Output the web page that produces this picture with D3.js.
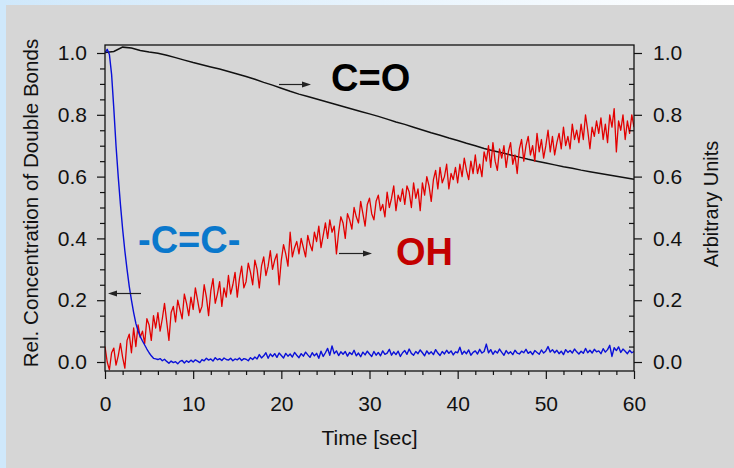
<!DOCTYPE html>
<html>
<head>
<meta charset="utf-8">
<script src="https://cdn.jsdelivr.net/npm/d3@7"></script>
<style>
  html, body { margin: 0; padding: 0; background: #d6d6d6; }
  svg { display: block; }
  text { font-family: "Liberation Sans", Arial, Helvetica, sans-serif; }
</style>
</head>
<body>
<svg id="chart" width="734" height="468"></svg>
<script>
// Sampling interval of the spectrometer traces (seconds)
const sampleStep = 0.25;
const coStep = 1;

// -C=C- band (relative concentration of double bonds, left axis)
const ccValues = [
  1.000, 1.012, 0.995, 0.930, 0.820, 0.700, 0.600, 0.510, 0.430, 0.360, 0.300, 0.245,
  0.200, 0.160, 0.125, 0.100, 0.082, 0.068, 0.055, 0.042, 0.030, 0.020,
  0.012, 0.010,
  0.008, 0.011, 0.004, 0.009,   0.002, -0.004, 0.003, -0.002,
  0.001, -0.006, 0.002, 0.005,  -0.003, 0.004, -0.001, 0.006,
  0.000, 0.007, 0.003, -0.002,  0.008, 0.004, 0.012, 0.006,
  0.010, 0.003, 0.014, 0.007,   0.011, 0.005, 0.013, 0.008,
  0.006, 0.012, 0.004, 0.010,   0.007, 0.013, 0.005, 0.011,
  0.009, 0.004, 0.014, 0.008,   0.016, 0.010, 0.024, 0.013,
  0.020, 0.030, 0.012, 0.026,   0.018, 0.027, 0.015, 0.029,
  0.021, 0.013, 0.028, 0.019,   0.026, 0.016, 0.031, 0.022,
  0.014, 0.027, 0.019, 0.032,   0.023, 0.015, 0.030, 0.020,
  0.028, 0.012, 0.035, 0.018,   0.030, 0.044, 0.022, 0.052,
  0.027, 0.036, 0.021, 0.033,   0.025, 0.034, 0.019, 0.031,
  0.024, 0.038, 0.020, 0.029,   0.017, 0.032, 0.023, 0.035,
  0.026, 0.018, 0.034, 0.022,   0.031, 0.020, 0.036, 0.025,
  0.029, 0.041, 0.022, 0.033,   0.024, 0.035, 0.018, 0.030,
  0.037, 0.025, 0.042, 0.028,   0.022, 0.034, 0.027, 0.039,
  0.030, 0.020, 0.036, 0.026,   0.033, 0.024, 0.040, 0.029,
  0.021, 0.034, 0.026, 0.038,   0.028, 0.036, 0.023, 0.033,
  0.030, 0.048, 0.025, 0.035,   0.027, 0.039, 0.022, 0.031,
  0.036, 0.026, 0.041, 0.029,   0.034, 0.058, 0.030, 0.040,
  0.025, 0.036, 0.029, 0.042,   0.031, 0.022, 0.037, 0.027,
  0.033, 0.024, 0.038, 0.029,   0.026, 0.035, 0.030, 0.041,
  0.028, 0.034, 0.024, 0.037,   0.031, 0.025, 0.039, 0.029,
  0.036, 0.050, 0.032, 0.040,   0.030, 0.038, 0.027, 0.035,
  0.024, 0.040, 0.031, 0.037,   0.029, 0.042, 0.033, 0.026,
  0.035, 0.028, 0.044, 0.030,   0.038, 0.029, 0.041, 0.033,
  0.036, 0.027, 0.043, 0.032,   0.040, 0.054, 0.018, 0.046,
  0.037, 0.049, 0.031, 0.042,   0.035, 0.027, 0.038, 0.030,
  0.034
];

// OH band (arbitrary units, right axis)
const ohValues = [
  0.05, 0.00, -0.025, 0.03, 0.045, -0.01, 0.02, 0.06,
  0.015, -0.02, 0.07, 0.09, 0.03, 0.11, 0.05, 0.12,
  0.08, 0.10, 0.06, 0.14, 0.12, 0.07, 0.15, 0.11,
  0.16, 0.10, 0.14, 0.19, 0.13, 0.07, 0.16, 0.18,
  0.13, 0.20, 0.17, 0.14, 0.22, 0.19, 0.15, 0.21,
  0.17, 0.24, 0.20, 0.16, 0.18, 0.25, 0.21, 0.15,
  0.23, 0.27, 0.19, 0.22, 0.26, 0.18, 0.24, 0.21,
  0.28, 0.22, 0.25, 0.29, 0.21, 0.27, 0.31, 0.24,
  0.26, 0.32, 0.29, 0.25, 0.33, 0.30, 0.24, 0.31,
  0.34, 0.28, 0.31, 0.36, 0.30, 0.33, 0.35, 0.25,
  0.33, 0.38, 0.35, 0.31, 0.42, 0.34, 0.37, 0.39,
  0.35, 0.40, 0.37, 0.34, 0.41, 0.38, 0.36, 0.42,
  0.39, 0.44, 0.37, 0.41, 0.45, 0.40, 0.46, 0.42,
  0.44, 0.35, 0.42, 0.47, 0.45, 0.40, 0.48, 0.46,
  0.43, 0.50, 0.47, 0.45, 0.52, 0.48, 0.44, 0.51,
  0.53, 0.48, 0.46, 0.52, 0.54, 0.49, 0.51, 0.47,
  0.55, 0.50, 0.53, 0.57, 0.49, 0.54, 0.52, 0.56,
  0.51, 0.57, 0.55, 0.50, 0.58, 0.53, 0.56, 0.49,
  0.58, 0.54, 0.60, 0.57, 0.52, 0.59, 0.62, 0.56,
  0.63, 0.58, 0.60, 0.64, 0.56, 0.61, 0.59, 0.63,
  0.58, 0.64, 0.60, 0.66, 0.62, 0.59, 0.65, 0.61,
  0.67, 0.61, 0.64, 0.60, 0.68, 0.65, 0.70, 0.63,
  0.71, 0.65, 0.62, 0.69, 0.66, 0.70, 0.63, 0.68,
  0.71, 0.64, 0.67, 0.61, 0.69, 0.72, 0.65, 0.70,
  0.73, 0.67, 0.70, 0.65, 0.74, 0.68, 0.72, 0.66,
  0.70, 0.75, 0.68, 0.73, 0.67, 0.71, 0.74, 0.69,
  0.76, 0.70, 0.73, 0.69, 0.77, 0.72, 0.75, 0.71,
  0.77, 0.72, 0.80, 0.75, 0.69, 0.76, 0.73, 0.78,
  0.74, 0.79, 0.72, 0.77, 0.71, 0.80, 0.76, 0.82,
  0.68, 0.78, 0.75, 0.80, 0.72, 0.78, 0.74, 0.80,
  0.76
];

// C=O band (arbitrary units, right axis), one reading per second
const coValues = [
  1.002, 1.005, 1.019, 1.016, 1.008, 1.003, 0.999, 0.993, 0.985, 0.977,
  0.969, 0.962, 0.955, 0.948, 0.940, 0.932, 0.924, 0.915, 0.905, 0.896,
  0.886, 0.876, 0.867, 0.859, 0.851, 0.843, 0.835, 0.827, 0.819, 0.811,
  0.803, 0.795, 0.786, 0.777, 0.769, 0.760, 0.751, 0.742, 0.734, 0.725,
  0.717, 0.708, 0.700, 0.691, 0.684, 0.677, 0.670, 0.663, 0.656, 0.650,
  0.644, 0.638, 0.632, 0.627, 0.621, 0.616, 0.611, 0.606, 0.601, 0.596,
  0.591
];

const xTicks = [0, 10, 20, 30, 40, 50, 60];
const xMinorTicks = [2, 4, 6, 8, 12, 14, 16, 18, 22, 24, 26, 28, 32, 34, 36, 38, 42, 44, 46, 48, 52, 54, 56, 58];
const yTicks = [0.0, 0.2, 0.4, 0.6, 0.8, 1.0];
const yMinorTicks = [0.05, 0.1, 0.15, 0.25, 0.3, 0.35, 0.45, 0.5, 0.55, 0.65, 0.7, 0.75, 0.85, 0.9, 0.95];

const leftTitle = "Rel. Concentration of Double Bonds";
const rightTitle = "Arbitrary Units";
const xTitle = "Time [sec]";

const svg = d3.select("#chart");
const W = 734, H = 468;
const plot = { left: 105, right: 634, top: 45, bottom: 371 };

// Page backdrop: grey panel with a pale blue rim on the left and top
const defs = svg.append("defs");
const rim = defs.append("linearGradient").attr("id", "rimTop").attr("x1", 0).attr("x2", 1).attr("y1", 0).attr("y2", 0);
rim.append("stop").attr("offset", "0%").attr("stop-color", "#cfe8fb");
rim.append("stop").attr("offset", "100%").attr("stop-color", "#ffffff");
svg.append("rect").attr("width", W).attr("height", H).attr("fill", "#d6d6d6");
svg.append("rect").attr("width", W).attr("height", 5).attr("fill", "url(#rimTop)");
svg.append("rect").attr("width", 6).attr("height", H).attr("fill", "#cfe8fb");

const x = d3.scaleLinear().domain([0, 60]).range([plot.left, plot.right]);
const y = d3.scaleLinear().domain([-0.0291, 1.0259]).range([plot.bottom, plot.top]);

defs.append("clipPath").attr("id", "plotClip").append("rect")
  .attr("x", plot.left).attr("y", plot.top)
  .attr("width", plot.right - plot.left).attr("height", plot.bottom - plot.top);

const line = step => d3.line()
  .x((d, i) => x(i * step))
  .y(d => y(d));

const series = svg.append("g").attr("clip-path", "url(#plotClip)");
series.append("path").datum(coValues)
  .attr("d", line(coStep)).attr("fill", "none").attr("stroke", "#111").attr("stroke-width", 1.5);
series.append("path").datum(ohValues)
  .attr("d", line(sampleStep)).attr("fill", "none").attr("stroke", "#e30000").attr("stroke-width", 1.3)
  .attr("stroke-linejoin", "round");
series.append("path").datum(ccValues)
  .attr("d", line(sampleStep)).attr("fill", "none").attr("stroke", "#0a10d8").attr("stroke-width", 1.4)
  .attr("stroke-linejoin", "round");

// Frame
svg.append("rect")
  .attr("x", plot.left).attr("y", plot.top)
  .attr("width", plot.right - plot.left).attr("height", plot.bottom - plot.top)
  .attr("fill", "none").attr("stroke", "#111").attr("stroke-width", 1.3);

function styleAxis(g, fontSize) {
  g.select(".domain").remove();
  g.selectAll(".tick line").attr("stroke", "#111").attr("stroke-width", 1.2);
  g.selectAll(".tick text").attr("fill", "#111").attr("font-size", fontSize)
    .attr("font-family", "'Liberation Sans', Arial, Helvetica, sans-serif");
}
const fmt = d3.format(".1f");

// Bottom axis
svg.append("g").attr("transform", `translate(0,${plot.bottom})`)
  .call(d3.axisBottom(x).tickValues(xTicks).tickSize(8).tickPadding(17).tickFormat(d3.format("d")))
  .call(g => styleAxis(g, 21));
svg.append("g").attr("transform", `translate(0,${plot.bottom})`)
  .call(d3.axisBottom(x).tickValues(xMinorTicks).tickSize(4).tickFormat(""))
  .call(g => styleAxis(g, 21));

// Left axis
svg.append("g").attr("transform", `translate(${plot.left},0)`)
  .call(d3.axisLeft(y).tickValues(yTicks).tickSize(8).tickPadding(10).tickFormat(fmt))
  .call(g => styleAxis(g, 21));
svg.append("g").attr("transform", `translate(${plot.left},0)`)
  .call(d3.axisLeft(y).tickValues(yMinorTicks).tickSize(5).tickFormat(""))
  .call(g => styleAxis(g, 21));

// Right axis
svg.append("g").attr("transform", `translate(${plot.right},0)`)
  .call(d3.axisRight(y).tickValues(yTicks).tickSize(8).tickPadding(11).tickFormat(fmt))
  .call(g => styleAxis(g, 21));
svg.append("g").attr("transform", `translate(${plot.right},0)`)
  .call(d3.axisLeft(y).tickValues(yMinorTicks).tickSize(5).tickFormat(""))
  .call(g => styleAxis(g, 21));

// Axis titles
svg.append("text").attr("x", (plot.left + plot.right) / 2).attr("y", 445)
  .attr("text-anchor", "middle").attr("font-size", 21).attr("fill", "#111").text(xTitle);
svg.append("text").attr("transform", "translate(38,203) rotate(-90)")
  .attr("text-anchor", "middle").attr("font-size", 20.6).attr("fill", "#111").text(leftTitle);
svg.append("text").attr("transform", "translate(718,204) rotate(-90)")
  .attr("text-anchor", "middle").attr("font-size", 20).attr("fill", "#111").text(rightTitle);

// Band labels with arrows pointing at their axis
function arrow(x1, x2, yy) {
  const dir = Math.sign(x2 - x1);
  svg.append("line").attr("x1", x1).attr("x2", x2 - dir * 6).attr("y1", yy).attr("y2", yy)
    .attr("stroke", "#222").attr("stroke-width", 1.2);
  svg.append("path")
    .attr("d", `M${x2},${yy} L${x2 - dir * 9},${yy - 3} L${x2 - dir * 9},${yy + 3} Z`)
    .attr("fill", "#222");
}
arrow(279, 311, 84.5);
arrow(339, 372, 253.5);
arrow(141, 108, 293.5);

const bandFont = "'Liberation Sans', Arial, sans-serif";
svg.append("text").attr("x", 331).attr("y", 91).attr("font-size", 38).attr("font-weight", "bold")
  .attr("font-family", bandFont).attr("fill", "#000").text("C=O");
svg.append("text").attr("x", 138).attr("y", 252.5).attr("font-size", 38).attr("font-weight", "bold")
  .attr("font-family", bandFont).attr("fill", "#0a78cc").text("-C=C-");
svg.append("text").attr("x", 396).attr("y", 265).attr("font-size", 38).attr("font-weight", "bold")
  .attr("font-family", bandFont).attr("fill", "#c30000").text("OH");
</script>
</body>
</html>
